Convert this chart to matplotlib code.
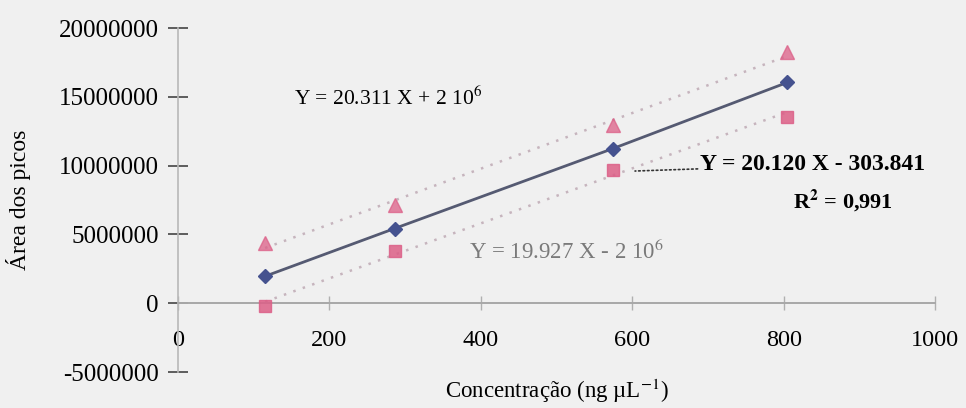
import numpy as np
import matplotlib.pyplot as plt

# concentration (ng/uL) and peak areas
conc = [115, 286, 574, 805]
area_mean = [1.96e6, 5.43e6, 11.23e6, 16.05e6]
area_upper = [4.35e6, 7.17e6, 12.97e6, 18.26e6]
area_lower = [-0.22e6, 3.77e6, 9.71e6, 13.55e6]

x_ticks = [0, 200, 400, 600, 800, 1000]
y_ticks = [-5000000, 0, 5000000, 10000000, 15000000, 20000000]

bg = "#f0f0f0"
pink = "#dc5f87"
navy = "#45528f"

plt.rcParams['font.family'] = ['Liberation Serif', 'DejaVu Serif']
plt.rcParams['mathtext.fontset'] = 'stix'

fig = plt.figure(figsize=(9.66, 4.08), dpi=100, facecolor=bg)
ax = fig.add_axes([0.1843, 0.0882, 0.7837, 0.8431], facecolor=bg)

# fitted trendlines for the upper and lower series
xs = np.array([conc[0], conc[-1]])
for series in (area_upper, area_lower):
    k, b = np.polyfit(conc, series, 1)
    ax.plot(xs, k * xs + b, ls=(0, (1, 3)), color="#c6b4bd", lw=1.8, zorder=1)

ax.plot(conc, area_upper, ls="none", marker="^", ms=10, color=pink, alpha=0.75, zorder=3)
ax.plot(conc, area_lower, ls="none", marker="s", ms=8.5, color=pink, alpha=0.85, zorder=3)
ax.plot(conc, area_mean, color="#555a72", lw=2, marker="D", ms=7.5,
        mfc=navy, mec=navy, zorder=4)

ax.set_xlim(0, 1000)
ax.set_ylim(-5000000, 20000000)
ax.set_xticks(x_ticks)
ax.set_yticks(y_ticks)
ax.set_xticklabels([str(v) for v in x_ticks])
ax.set_yticklabels([str(v) for v in y_ticks])

for side in ("top", "right"):
    ax.spines[side].set_visible(False)
ax.spines["bottom"].set_position(("data", 0))
ax.spines["bottom"].set_color("#a8a8a8")
ax.spines["left"].set_color("#b8b8b8")
ax.spines["bottom"].set_linewidth(1.4)
ax.spines["left"].set_linewidth(1.2)

ax.tick_params(axis="y", direction="inout", length=14, width=1.2, color="#444444",
               labelsize=18, pad=7)
ax.tick_params(axis="x", direction="inout", length=10, width=1, color="#b0b0b0",
               labelsize=17.5, pad=14)

# outer y ticks are faint in this style
yt = ax.yaxis.get_major_ticks()
yt[0].tick1line.set_color("#a0a0a0")
yt[-1].tick1line.set_color("#dddddd")
yt[1].tick1line.set_color("#c0c0c0")

ax.set_xlabel("Concentração (ng µL$^{-1}$)", fontsize=16.5, va="center")
ax.xaxis.set_label_coords(0.5, -0.055)
ax.set_ylabel("Área dos picos", fontsize=17, labelpad=20)

ax.text(153, 14.9e6, "Y = 20.311 X + 2 10$^{6}$", fontsize=15.5, va="center")
ax.text(385, 3.75e6, "Y = 19.927 X - 2 10$^{6}$", fontsize=16.5, va="center",
        color="#7a7a7a")
ax.annotate("Y = 20.120 X - 303.841", xy=(600, 9.6e6), xytext=(690, 10.05e6),
            fontsize=17, fontweight="bold", va="center",
            arrowprops=dict(arrowstyle="-", ls=":", color="#333333", lw=1.2,
                            shrinkA=0, shrinkB=2))
ax.text(878, 7.45e6, "R$^{\\mathbf{2}}$ = 0,991", fontsize=16, fontweight="bold",
        ha="center", va="center")

fig.savefig("out.png", dpi=100, facecolor=bg)
